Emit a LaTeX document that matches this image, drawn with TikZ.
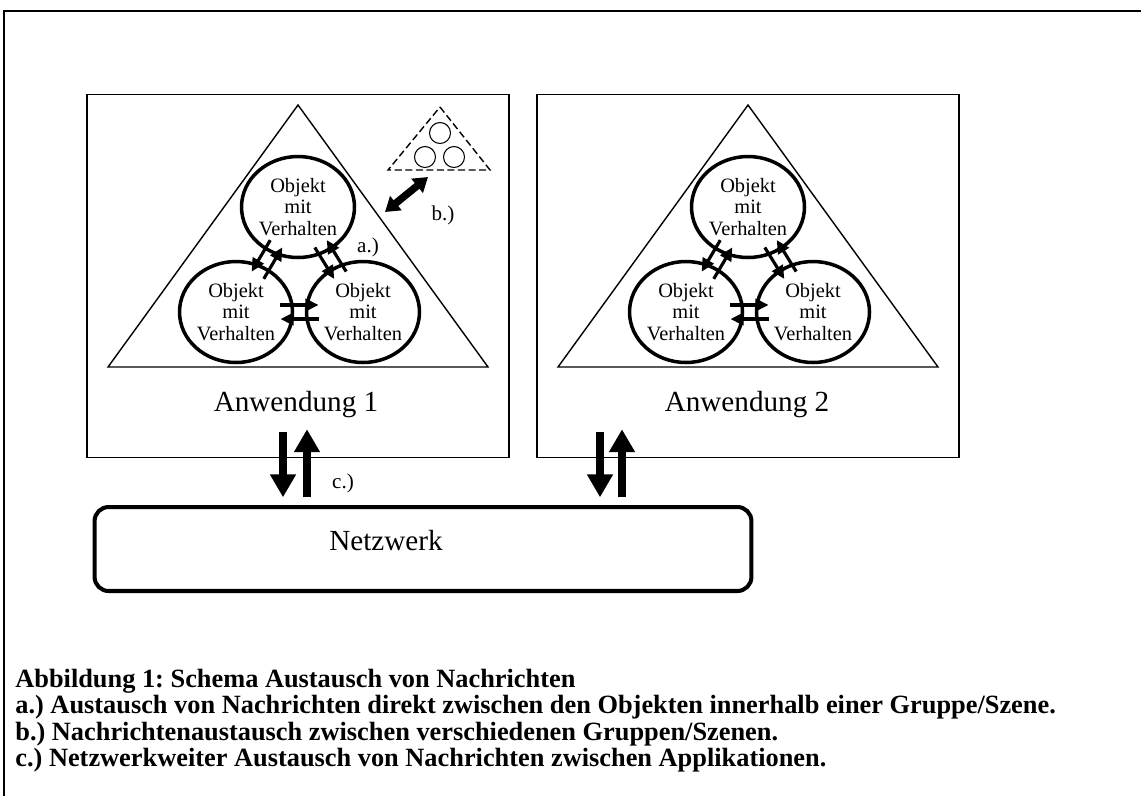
\documentclass[tikz,border=0pt]{standalone}
\usepackage{fontspec}
\setmainfont{Liberation Serif}
\usetikzlibrary{shapes.geometric,arrows.meta,positioning,calc}
\frenchspacing

\begin{document}
\begin{tikzpicture}[
    x=0.02cm, y=-0.02cm,
    rahmen/.style={line width=0.9pt},
    anwendung/.style={rectangle, draw, line width=0.9pt, minimum width=8.44cm, minimum height=7.26cm},
    objekt/.style={ellipse, draw, line width=2pt, minimum width=2.26cm, minimum height=2.02cm, inner sep=0pt, align=center, font=\fontsize{11.6}{12}\selectfont},
    klein/.style={circle, draw, line width=0.6pt, minimum size=0.42cm, inner sep=0pt},
    gruppe/.style={line width=0.8pt},
    nachricht/.style={-{Triangle[length=7.5pt,width=7pt]}, line width=1.8pt},
    doppelpfeil/.style={{Triangle[length=8pt,width=10pt]}-{Triangle[length=8pt,width=10pt]}, line width=4.2pt},
    netzpfeil/.style={-{Triangle[length=13pt,width=14pt]}, line width=4.5pt},
    netz/.style={rectangle, rounded corners=8pt, draw, line width=2.3pt, minimum width=13.14cm, minimum height=1.68cm},
    titel/.style={font=\fontsize{16.6}{18}\selectfont},
    marke/.style={font=\fontsize{12}{14}\selectfont},
    legende/.style={anchor=west, inner sep=0pt, font=\bfseries\fontsize{15}{17}\selectfont}
]
\useasboundingbox (0,0) rectangle (1141,796);

% Rahmen
\draw[rahmen] (4,796) -- (4,11) -- (1141,11);

% Anwendungen
\node[anwendung] (app1) at (298,276) {};
\node[anwendung] (app2) at (748,276) {};
\node[titel] (name1) at (296,405) {Anwendung 1};
\node[titel] (name2) at (747,405) {Anwendung 2};

% Gruppe 1
\draw[gruppe] (298,105) -- (488,367) -- (108,367) -- cycle;
\node[objekt] (o11) at (298,207) {Objekt\\mit\\Verhalten};
\node[objekt] (o12) at (236,312) {Objekt\\mit\\Verhalten};
\node[objekt] (o13) at (363,312) {Objekt\\mit\\Verhalten};

\draw[nachricht] ($(o11)!.35!(o12)!4pt!-90:(o12)$) -- ($(o11)!.65!(o12)!4pt!-90:(o12)$);
\draw[nachricht] ($(o11)!.65!(o12)!4pt!90:(o12)$) -- ($(o11)!.35!(o12)!4pt!90:(o12)$);
\draw[nachricht] ($(o11)!.35!(o13)!4pt!-90:(o13)$) -- ($(o11)!.65!(o13)!4pt!-90:(o13)$);
\draw[nachricht] ($(o11)!.65!(o13)!4pt!90:(o13)$) -- ($(o11)!.35!(o13)!4pt!90:(o13)$);
\draw[nachricht] ($(o12)!.35!(o13)!4pt!90:(o13)$) -- ($(o12)!.65!(o13)!4pt!90:(o13)$);
\draw[nachricht] ($(o12)!.65!(o13)!4pt!-90:(o13)$) -- ($(o12)!.35!(o13)!4pt!-90:(o13)$);
\node[marke] (la) at (368,247) {a.)};

% andere Gruppe
\draw[gruppe, dash pattern=on 4pt off 2pt] (440,107) -- (490,170) -- (388,170) -- cycle;
\node[klein] (k1) at (440,133) {};
\node[klein] (k2) at (425,157) {};
\node[klein] (k3) at (454,157) {};
\coordinate (bA) at (385,212);
\coordinate (bB) at (428,177);
\draw[doppelpfeil] (bA) -- (bB);
\node[marke] (lb) at (443,215) {b.)};

% Gruppe 2
\draw[gruppe] (748,105) -- (938,367) -- (558,367) -- cycle;
\node[objekt] (o21) at (748,207) {Objekt\\mit\\Verhalten};
\node[objekt] (o22) at (686,312) {Objekt\\mit\\Verhalten};
\node[objekt] (o23) at (813,312) {Objekt\\mit\\Verhalten};

\draw[nachricht] ($(o21)!.35!(o22)!4pt!-90:(o22)$) -- ($(o21)!.65!(o22)!4pt!-90:(o22)$);
\draw[nachricht] ($(o21)!.65!(o22)!4pt!90:(o22)$) -- ($(o21)!.35!(o22)!4pt!90:(o22)$);
\draw[nachricht] ($(o21)!.35!(o23)!4pt!-90:(o23)$) -- ($(o21)!.65!(o23)!4pt!-90:(o23)$);
\draw[nachricht] ($(o21)!.65!(o23)!4pt!90:(o23)$) -- ($(o21)!.35!(o23)!4pt!90:(o23)$);
\draw[nachricht] ($(o22)!.35!(o23)!4pt!90:(o23)$) -- ($(o22)!.65!(o23)!4pt!90:(o23)$);
\draw[nachricht] ($(o22)!.65!(o23)!4pt!-90:(o23)$) -- ($(o22)!.35!(o23)!4pt!-90:(o23)$);

% Netzwerk
\node[netz] (netz) at (423,549) {};
\node[titel] (netzname) at (386,541) {Netzwerk};

\draw[netzpfeil] ($(app1.south)+(-15,-26)$) -- ($(app1.south)+(-15,39)$);
\draw[netzpfeil] ($(app1.south)+(9,39)$) -- ($(app1.south)+(9,-29)$);
\draw[netzpfeil] ($(app2.south)+(-148,-26)$) -- ($(app2.south)+(-148,39)$);
\draw[netzpfeil] ($(app2.south)+(-126,39)$) -- ($(app2.south)+(-126,-29)$);
\node[marke] (lc) at (343,483) {c.)};

% Legende
\node[legende] (cap0) at (15,681) {Abbildung 1: Schema Austausch von Nachrichten};
\node[legende] (cap1) at (15,707) {a.) Austausch von Nachrichten direkt zwischen den Objekten innerhalb einer Gruppe/Szene.};
\node[legende] (cap2) at (15,734) {b.) Nachrichtenaustausch zwischen verschiedenen Gruppen/Szenen.};
\node[legende] (cap3) at (15,760) {c.) Netzwerkweiter Austausch von Nachrichten zwischen Applikationen.};

\end{tikzpicture}
\end{document}
